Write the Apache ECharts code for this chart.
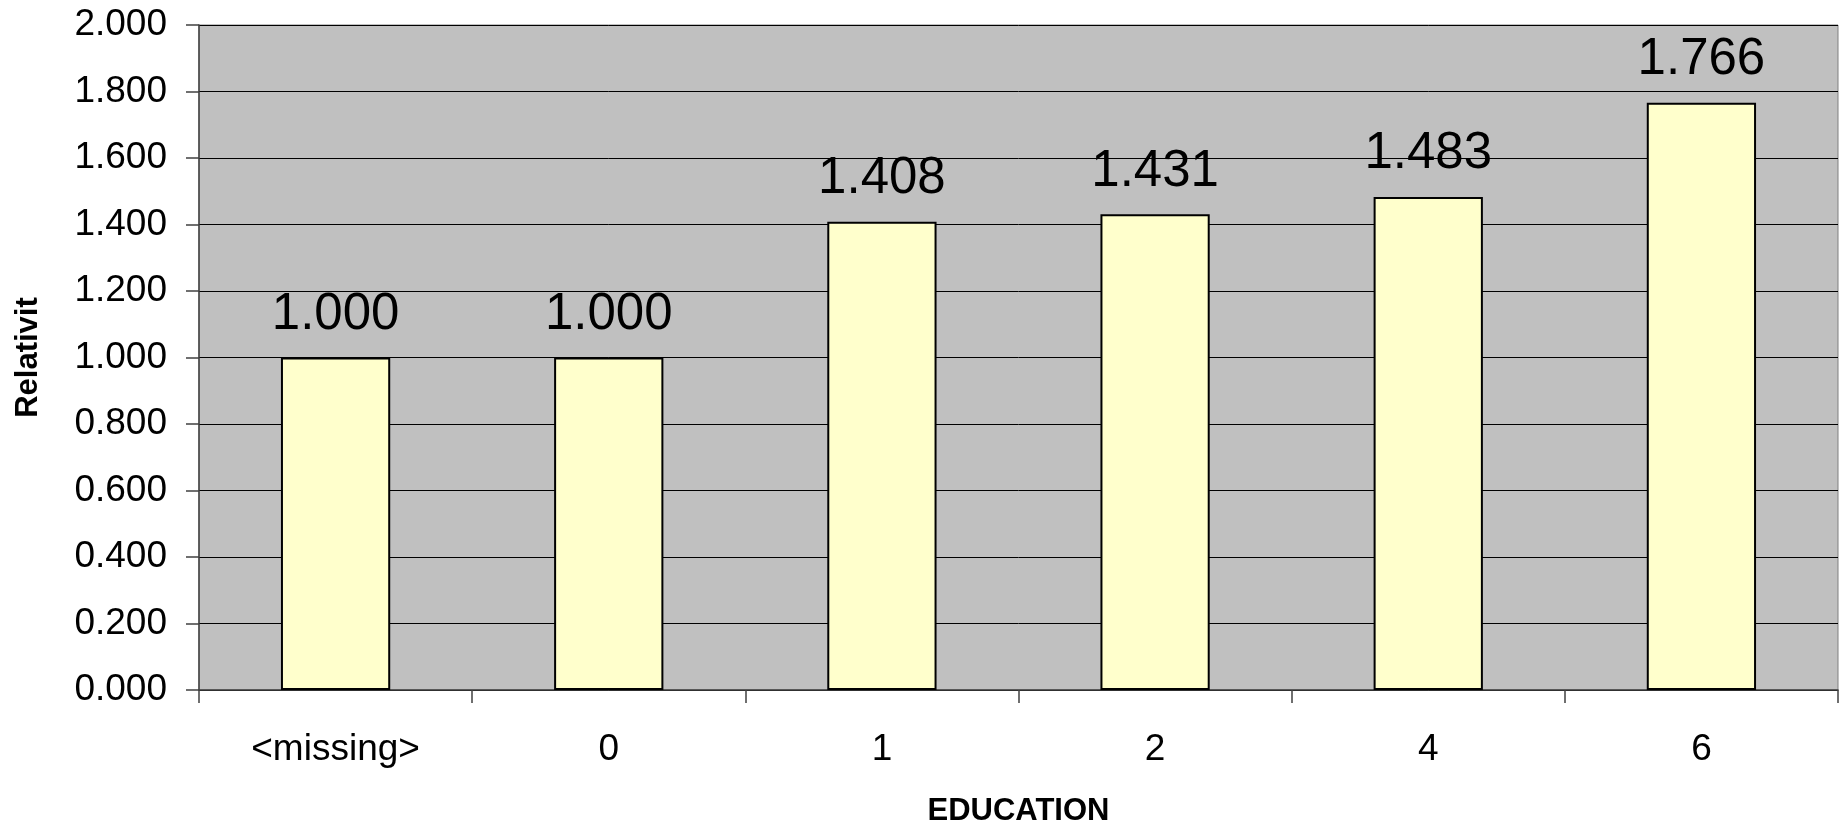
<!DOCTYPE html>
<html>
<head>
<meta charset="utf-8">
<style>
  html, body { margin: 0; padding: 0; background: #ffffff; }
  #chart { width: 1843px; height: 825px; }
</style>
<script src="https://cdn.jsdelivr.net/npm/echarts@6/dist/echarts.min.js"></script>
</head>
<body>
<div id="chart"></div>
<script>
// Education levels and their relativity factors
const categories = ['<missing>', '0', '1', '2', '4', '6'];
const relativity = [1.000, 1.000, 1.408, 1.431, 1.483, 1.766];
const yMin = 0;
const yMax = 2;
const yStep = 0.2;

const FONT = '"Liberation Sans", Arial, sans-serif';

const chart = echarts.init(document.getElementById('chart'), null, { renderer: 'canvas' });

chart.setOption({
  animation: false,
  backgroundColor: '#ffffff',
  grid: {
    left: 199, right: 5, top: 25, bottom: 135,
    outerBoundsMode: 'none',
    containLabel: false,
    show: true,
    backgroundColor: '#c0c0c0',
    borderColor: '#808080',
    borderWidth: 1
  },
  xAxis: {
    type: 'category',
    data: categories,
    name: 'EDUCATION',
    nameLocation: 'middle',
    nameGap: 106,
    nameTextStyle: { fontFamily: FONT, fontSize: 31, fontWeight: 'bold', color: '#000' },
    axisLine: { lineStyle: { color: '#404040', width: 1.5 } },
    axisTick: { show: true, length: 13, lineStyle: { color: '#404040', width: 1.5 } },
    axisLabel: { fontFamily: FONT, fontSize: 37, color: '#000', margin: 41 }
  },
  yAxis: {
    type: 'value',
    min: yMin, max: yMax, interval: yStep,
    name: 'Relativit',
    nameLocation: 'middle',
    nameGap: 155,
    nameRotate: 90,
    nameTextStyle: { fontFamily: FONT, fontSize: 31, fontWeight: 'bold', color: '#000' },
    axisLine: { show: true, lineStyle: { color: '#404040', width: 1.5 } },
    axisTick: { show: true, length: 13, lineStyle: { color: '#404040', width: 1.5 } },
    axisLabel: {
      fontFamily: FONT, fontSize: 37, color: '#000', margin: 32,
      formatter: v => v.toFixed(3)
    },
    splitLine: { show: true, lineStyle: { color: '#000000', width: 1 } }
  },
  series: [{
    type: 'bar',
    data: relativity,
    barWidth: '40%',
    itemStyle: { color: '#ffffcc', borderColor: '#000000', borderWidth: 2 },
    label: {
      show: true,
      position: 'top',
      distance: 17,
      fontFamily: FONT,
      fontSize: 51,
      color: '#000',
      formatter: p => p.value.toFixed(3)
    }
  }]
});
</script>
</body>
</html>
